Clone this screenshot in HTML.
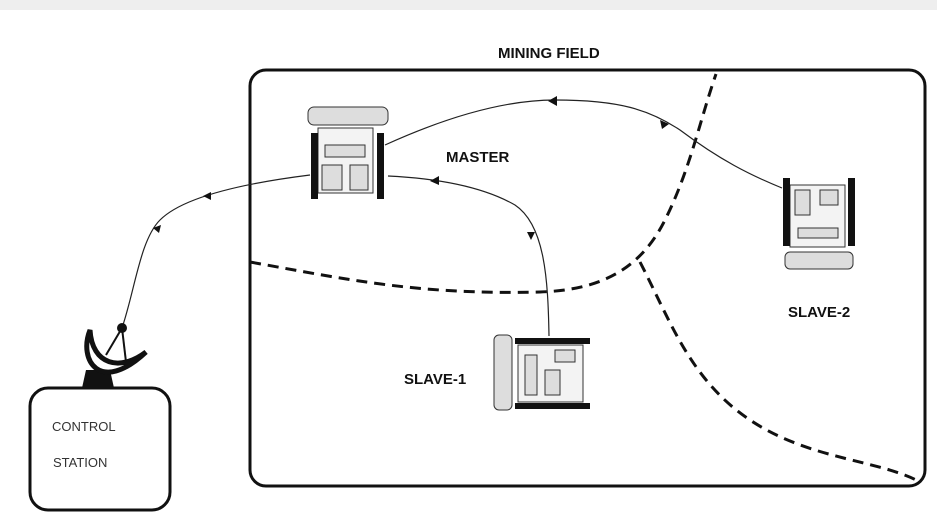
<!DOCTYPE html>
<html><head><style>
body{margin:0;background:#fff;}
svg{display:block;font-family:"Liberation Sans",sans-serif;}
</style></head><body>
<svg width="937" height="521" viewBox="0 0 937 521">
<rect x="0" y="0" width="937" height="10" fill="#eeeeee"/>
<rect x="250" y="70" width="675" height="416" rx="16" fill="none" stroke="#111" stroke-width="3"/>
<text x="498" y="58" font-size="15" font-weight="bold" fill="#111">MINING FIELD</text>
<text x="446" y="162" font-size="15" font-weight="bold" fill="#111">MASTER</text>
<text x="404" y="384" font-size="15" font-weight="bold" fill="#111">SLAVE-1</text>
<text x="788" y="317" font-size="15" font-weight="bold" fill="#111">SLAVE-2</text>
<path d="M250 262 C350 280 420 295 540 292 C600 290 640 270 665 220 C690 170 700 120 716 74" fill="none" stroke="#111" stroke-width="3" stroke-dasharray="11 7"/>
<path d="M640 262 C670 320 690 380 750 420 C810 460 880 460 920 482" fill="none" stroke="#111" stroke-width="3" stroke-dasharray="11 7"/>
<g fill="none" stroke="#222" stroke-width="1.2">
<path d="M122 328 C135 290 140 240 160 220 C180 200 230 185 310 175"/>
<path d="M385 145 C440 120 500 100 555 100 C620 100 650 110 680 130 C720 160 750 175 782 188"/>
<path d="M388 176 C430 178 480 185 515 205 C545 225 548 280 549 336"/>
</g>
<g fill="#111">
<path d="M153 228 l8 -3 l-2 8z"/><path d="M203 196 l8 -4 l0 8z"/>
<path d="M548 101 l9 -5 l0 10z"/><path d="M660 120 l9 4 l-7 5z"/>
<path d="M430 181 l9 -5 l0 9z"/><path d="M527 232 l8 0 l-4 8z"/>
</g>
<g stroke="#333" fill="#ddd">
<rect x="308" y="107" width="80" height="18" rx="6"/>
<rect x="318" y="128" width="55" height="65" fill="#f3f3f3"/>
<rect x="325" y="145" width="40" height="12"/>
<rect x="322" y="165" width="20" height="25"/><rect x="350" y="165" width="18" height="25"/>
</g>
<rect x="311" y="133" width="7" height="66" fill="#111"/><rect x="377" y="133" width="7" height="66" fill="#111"/>
<g stroke="#333" fill="#ddd">
<rect x="790" y="185" width="55" height="62" fill="#f3f3f3"/>
<rect x="795" y="190" width="15" height="25"/><rect x="820" y="190" width="18" height="15"/>
<rect x="798" y="228" width="40" height="10"/>
<rect x="785" y="252" width="68" height="17" rx="5"/>
</g>
<rect x="783" y="178" width="7" height="68" fill="#111"/><rect x="848" y="178" width="7" height="68" fill="#111"/>
<g stroke="#333" fill="#ddd">
<rect x="494" y="335" width="18" height="75" rx="5"/>
<rect x="518" y="345" width="65" height="57" fill="#f3f3f3"/>
<rect x="525" y="355" width="12" height="40"/><rect x="555" y="350" width="20" height="12"/>
<rect x="545" y="370" width="15" height="25"/>
</g>
<rect x="515" y="338" width="75" height="6" fill="#111"/><rect x="515" y="403" width="75" height="6" fill="#111"/>
<rect x="30" y="388" width="140" height="122" rx="18" fill="#fff" stroke="#111" stroke-width="3"/>
<text x="52" y="431" font-size="13" fill="#333">CONTROL</text>
<text x="53" y="467" font-size="13" fill="#333">STATION</text>
<path d="M82 388 L86 370 L110 370 L114 388z" fill="#111"/>
<path d="M90 330 C78 360 100 395 146 352 C120 372 92 365 90 330z" fill="#fff" stroke="#111" stroke-width="5"/>
<line x1="106" y1="355" x2="122" y2="328" stroke="#111" stroke-width="2"/>
<line x1="122" y1="328" x2="126" y2="362" stroke="#111" stroke-width="2"/>
<circle cx="122" cy="328" r="5" fill="#111"/>
</svg>
</body></html>
